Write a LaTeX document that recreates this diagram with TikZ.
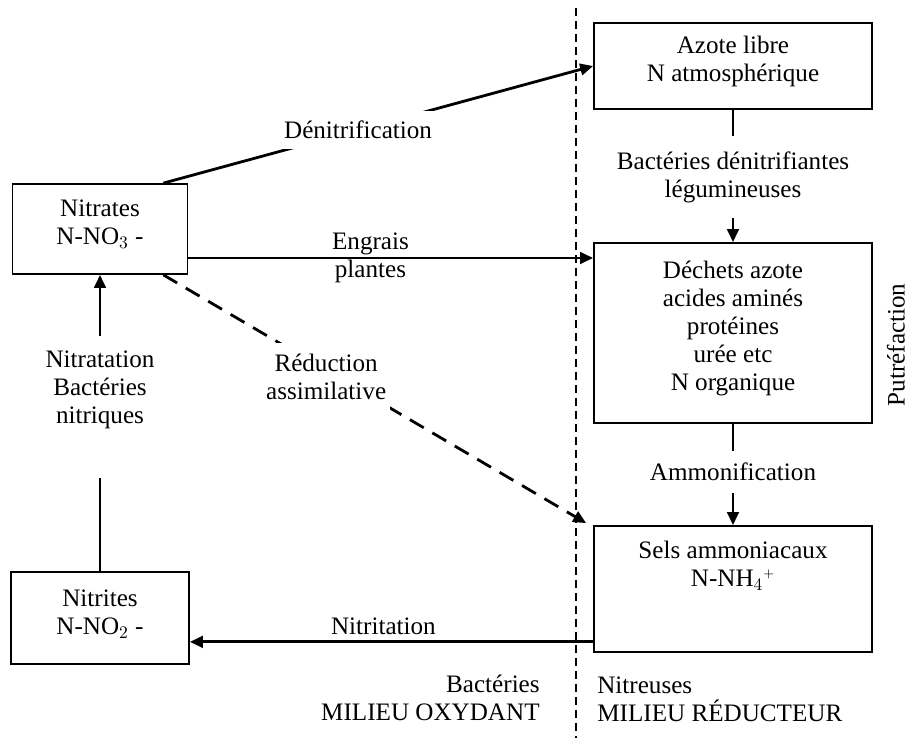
\documentclass[tikz,border=0pt]{standalone}
\usepackage{fontspec}
\setmainfont{Liberation Serif}
\usetikzlibrary{arrows.meta}
\newcommand{\vpad}[1]{\rule[-#1]{0pt}{#1}}

\begin{document}
\begin{tikzpicture}[
    x=0.02cm,y=-0.02cm,
    font=\fontsize{14.3}{16}\selectfont,
    box/.style={rectangle,draw,line width=1pt,align=center,inner sep=0pt,minimum width=5.56cm},
    lab/.style={align=center,inner xsep=2pt,inner ysep=3mm},
    conn/.style={line width=1.6pt},
    arr/.style={conn,-{Triangle[length=2.6mm,width=2.3mm]}},
    sep/.style={line width=0.7pt,dash pattern=on 1.6mm off 1mm}
]
\useasboundingbox (0,0) rectangle (914,738);

% milieu separation
\coordinate (septop) at (576,8);
\coordinate (sepbot) at (576,738);
\draw[sep] (septop) -- (sepbot);

% boxes
\node[box,minimum height=1.72cm] (azote) at (733,66) {Azote libre\\N atmosphérique\vpad{2.8mm}};
\node[box,minimum height=3.6cm] (dechets) at (733,333) {Déchets azote\\acides aminés\\protéines\\urée etc\\N organique\vpad{3mm}};
\node[box,minimum height=2.52cm] (sels) at (733,589) {Sels ammoniacaux\\N-NH$_4{}^{\scriptscriptstyle +}$\vpad{10mm}};
\node[box,minimum width=3.5cm,minimum height=1.8cm] (nitrates) at (100,229) {Nitrates\\N-NO$_3$ -\vpad{2.8mm}};
\node[box,minimum width=3.56cm,minimum height=1.84cm] (nitrites) at (100,618) {Nitrites\\N-NO$_2$ -\vpad{2.4mm}};

% labels
\node[lab] (bact) at (733,177) {Bactéries dénitrifiantes\\légumineuses};
\node[lab,inner ysep=2.4mm] (ammon) at (733,472) {Ammonification};
\node[lab] (nitrat) at (100,390) {Nitratation\\Bactéries\\nitriques};
\coordinate (nitrend) at (100,478);
\node[rotate=90] (putref) at (896,345) {Putréfaction};
\node[align=right,anchor=east,inner sep=0pt] (oxyd) at (540,698) {Bactéries\\MILIEU OXYDANT};
\node[align=left,anchor=west,inner sep=0pt] (reduct) at (597,699) {Nitreuses\\MILIEU RÉDUCTEUR};

% connectors
\draw[conn] (azote) -- (bact);
\draw[arr] (bact) -- (dechets);
\draw[conn] (dechets) -- (ammon);
\draw[arr] (ammon) -- (sels);
\draw[conn] (nitrites) -- (nitrend);
\draw[arr] (nitrat) -- (nitrates);
\draw[arr] ([xshift=-0.5cm]nitrates.north east) -- node[fill=white,inner sep=2mm,pos=0.453] (denit) {Dénitrification} (azote.west);
\draw[arr] ([yshift=-0.58cm]nitrates.east) -- node[align=center,pos=0.45] (engrais) {Engrais\\plantes} ([yshift=-0.58cm]nitrates.east -| dechets.west);
\draw[arr,dash pattern=on 3.2mm off 2mm] ([xshift=-0.5cm]nitrates.south east) -- node[fill=white,align=center,inner xsep=2pt,inner ysep=2.2mm,pos=0.385,yshift=-0.12cm] (reduc) {Réduction\\assimilative} ([xshift=-0.14cm,yshift=0.04cm]sels.north west);
\draw[arr] ([yshift=0.22cm]sels.south west) -- node[above,pos=0.52] (nitrit) {Nitritation} ([yshift=0.22cm]sels.south west -| nitrites.east);
\end{tikzpicture}
\end{document}
